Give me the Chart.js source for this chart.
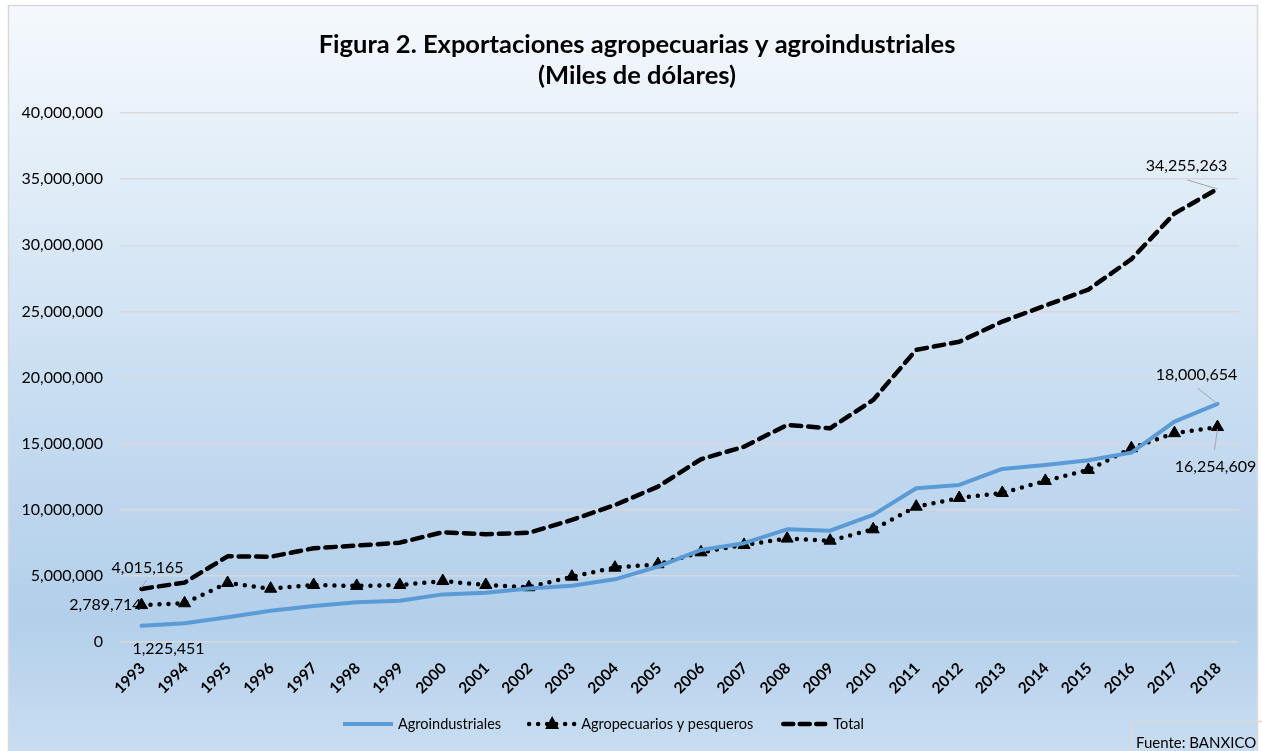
<!DOCTYPE html>
<html>
<head>
<meta charset="utf-8">
<script src="https://cdn.jsdelivr.net/npm/chart.js@4.4.0/dist/chart.umd.min.js"></script>
<style>
html,body{margin:0;padding:0;background:#fff;}
canvas{display:block;}
</style>
</head>
<body>
<canvas id="c" width="1262" height="751"></canvas>
<script>
const years = ['1993','1994','1995','1996','1997','1998','1999','2000','2001','2002','2003','2004','2005','2006','2007','2008','2009','2010','2011','2012','2013','2014','2015','2016','2017','2018'];
const agroindustriales = [1225451,1410000,1870000,2370000,2720000,3000000,3120000,3600000,3730000,4050000,4260000,4740000,5700000,6960000,7470000,8520000,8420000,9610000,11630000,11880000,13090000,13390000,13740000,14320000,16660000,18000654];
const agropecuarios = [2789714,2930000,4460000,4030000,4310000,4240000,4310000,4610000,4310000,4140000,4940000,5620000,5880000,6780000,7340000,7820000,7660000,8520000,10230000,10890000,11270000,12180000,13010000,14650000,15790000,16254609];
const total = [4015165,4490000,6480000,6450000,7090000,7290000,7510000,8300000,8150000,8260000,9230000,10360000,11750000,13820000,14770000,16410000,16160000,18300000,22090000,22700000,24230000,25440000,26650000,28950000,32400000,34255263];
const seriesNames = ['Agroindustriales','Agropecuarios y pesqueros','Total'];
const titleLines = ['Figura 2. Exportaciones agropecuarias y agroindustriales','(Miles de dólares)'];
const sourceText = 'Fuente: BANXICO';
const yTicks = {min:0, max:40000000, step:5000000};

const FONT = 'Lato, "Open Sans", sans-serif';
const fmt = v => Math.round(v).toLocaleString('en-US');

const bgPlugin = {
  id:'bg',
  beforeDraw(chart){
    const c = chart.ctx;
    c.save();
    c.fillStyle = '#ffffff';
    c.fillRect(0,0,chart.width,chart.height);
    const g = c.createLinearGradient(0,5,0,751);
    g.addColorStop(0,'#f5f9fd');
    g.addColorStop(0.55,'#c6dcf1');
    g.addColorStop(0.82,'#b3cfea');
    g.addColorStop(1,'#c8ddf1');
    c.fillStyle = g;
    c.fillRect(8,5,1250,760);
    c.strokeStyle = '#d9d9d9';
    c.lineWidth = 1.5;
    c.strokeRect(8.5,5.5,1249,760);
    // title
    c.fillStyle = '#000';
    c.textAlign = 'center';
    c.textBaseline = 'middle';
    c.font = 'bold 25.5px ' + FONT;
    c.fillText(titleLines[0], 637, 45);
    c.fillText(titleLines[1], 637, 76);
    c.restore();
  }
};

const labelPlugin = {
  id:'dlabels',
  afterDatasetsDraw(chart){
    const c = chart.ctx;
    const pt = (d,i) => chart.getDatasetMeta(d).data[i];
    const last = years.length - 1;
    const items = [
      {d:2,i:0,v:total[0],dx:6,dy:-21,lx1:0,ly1:-1,lx2:5,ly2:-9,align:'center'},
      {d:1,i:0,v:agropecuarios[0],dx:0,dy:0,align:'right'},
      {d:0,i:0,v:agroindustriales[0],dx:27,dy:23,align:'center'},
      {d:2,i:last,v:total[last],dx:-31,dy:-23,lx1:0,ly1:0,lx2:-30,ly2:-9,align:'center'},
      {d:0,i:last,v:agroindustriales[last],dx:-21,dy:-29,lx1:0,ly1:0,lx2:-20,ly2:-16,align:'center'},
      {d:1,i:last,v:agropecuarios[last],dx:-2,dy:40,lx1:0,ly1:2,lx2:-3,ly2:23,align:'center'}
    ];
    c.save();
    c.font = '16px ' + FONT;
    c.fillStyle = '#000';
    c.textBaseline = 'middle';
    items.forEach(it => {
      const p = pt(it.d,it.i);
      if (it.lx2 !== undefined){
        c.strokeStyle = '#a6a6a6';
        c.lineWidth = 1;
        c.setLineDash([]);
        c.beginPath();
        c.moveTo(p.x+it.lx1,p.y+it.ly1);
        c.lineTo(p.x+it.lx2,p.y+it.ly2);
        c.stroke();
      }
      c.textAlign = it.align;
      c.fillText(fmt(it.v), p.x+it.dx, p.y+it.dy);
    });
    c.restore();
  }
};

const legendPlugin = {
  id:'customLegend',
  afterDraw(chart){
    const c = chart.ctx;
    const y = 724;
    c.save();
    c.font = '14.5px ' + FONT;
    c.fillStyle = '#000';
    c.textBaseline = 'middle';
    c.textAlign = 'left';
    let x = 343;
    // Agroindustriales
    c.strokeStyle = '#5b9bd5'; c.lineWidth = 4; c.lineCap = 'butt'; c.setLineDash([]);
    c.beginPath(); c.moveTo(x,y); c.lineTo(x+50,y); c.stroke();
    x += 55;
    c.fillText(seriesNames[0], x, y);
    x += c.measureText(seriesNames[0]).width + 28;
    // Agropecuarios
    c.strokeStyle = '#000'; c.lineWidth = 4.5; c.lineCap = 'round'; c.setLineDash([0,9]);
    c.beginPath(); c.moveTo(x,y); c.lineTo(x+46,y); c.stroke();
    c.setLineDash([]);
    c.beginPath(); c.moveTo(x+23,y-8); c.lineTo(x+30,y+5); c.lineTo(x+16,y+5); c.closePath();
    c.fillStyle = '#000'; c.fill();
    x += 52;
    c.fillText(seriesNames[1], x, y);
    x += c.measureText(seriesNames[1]).width + 28;
    // Total
    c.lineWidth = 4.5; c.lineCap = 'round'; c.setLineDash([10,6.5]);
    c.beginPath(); c.moveTo(x+2,y); c.lineTo(x+44,y); c.stroke();
    c.setLineDash([]);
    x += 52;
    c.fillText(seriesNames[2], x, y);
    // source box
    c.strokeStyle = '#d9d9d9'; c.lineWidth = 1.5;
    c.strokeRect(1131.5, 721.5, 140, 50);
    c.font = '15px ' + FONT;
    c.fillText(sourceText, 1136, 743);
    c.restore();
  }
};

new Chart(document.getElementById('c'), {
  type:'line',
  data:{
    labels: years,
    datasets:[
      {label:seriesNames[0], data:agroindustriales, borderColor:'#5b9bd5', borderWidth:4, pointRadius:0, tension:0, borderCapStyle:'round', borderJoinStyle:'round'},
      {label:seriesNames[1], data:agropecuarios, borderColor:'#000', borderWidth:4.5, borderDash:[0,9], borderCapStyle:'round', pointStyle:'triangle', pointRadius:7, pointBackgroundColor:'#000', pointBorderColor:'#000', pointBorderWidth:1, tension:0},
      {label:seriesNames[2], data:total, borderColor:'#000', borderWidth:4.5, borderDash:[10.5,7], borderCapStyle:'round', borderJoinStyle:'round', pointRadius:0, tension:0}
    ]
  },
  options:{
    responsive:false, animation:false, devicePixelRatio:1,
    layout:{padding:{left:0,right:23,top:113,bottom:40}},
    plugins:{legend:{display:false}, title:{display:false}, tooltip:{enabled:false}},
    scales:{
      x:{
        offset:true,
        grid:{display:false, drawTicks:false},
        border:{display:false},
        ticks:{autoSkip:false, maxRotation:45, minRotation:45, color:'#000', padding:17, labelOffset:1, font:{family:FONT, size:15.5, weight:'bold'}},
        afterFit(s){ s.height = 69; }
      },
      y:{
        min:yTicks.min, max:yTicks.max,
        grid:{color:'#d9d9d9', lineWidth:1.5, drawTicks:false},
        border:{display:false},
        ticks:{stepSize:yTicks.step, color:'#000', padding:17, font:{family:FONT, size:16}, callback:v => fmt(v)},
        afterFit(s){ s.width = 120; }
      }
    }
  },
  plugins:[bgPlugin, labelPlugin, legendPlugin]
});
</script>
</body>
</html>
